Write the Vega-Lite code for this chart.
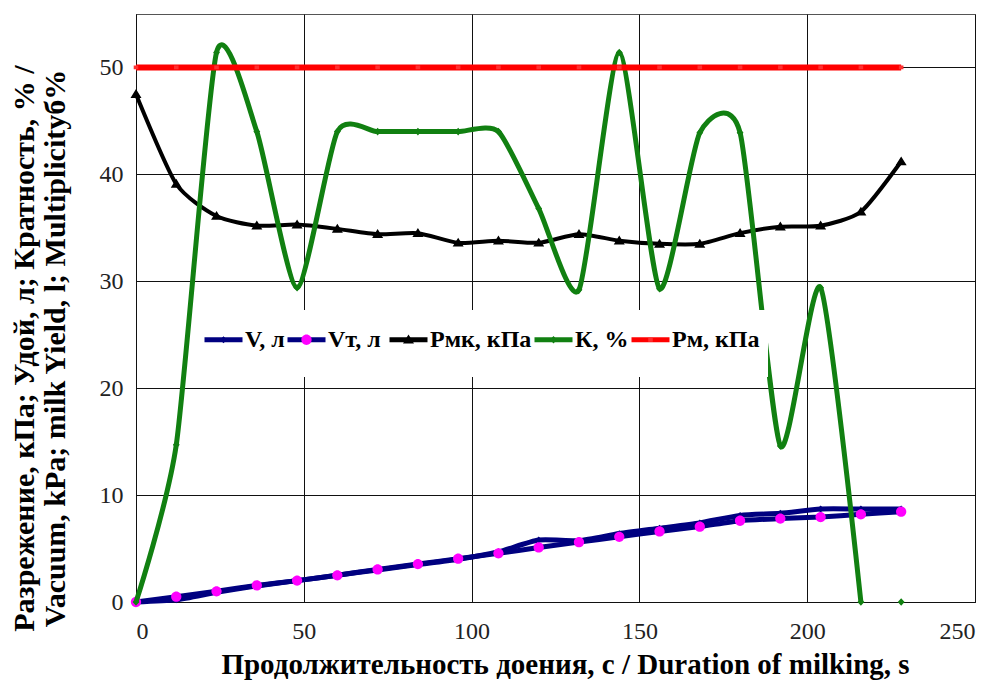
{
  "$schema": "https://vega.github.io/schema/vega-lite/v6.json",
  "width": 839,
  "height": 588,
  "autosize": "none",
  "padding": {"left": 136, "top": 14, "right": 17, "bottom": 78},
  "background": "white",
  "config": {
    "view": {"stroke": "#555", "strokeWidth": 1},
    "font": "Liberation Serif",
    "axis": {
      "grid": true, "gridColor": "#111", "gridOpacity": 1, "gridWidth": 1,
      "domainColor": "#111", "domainWidth": 1, "ticks": false,
      "labelFont": "Liberation Serif", "labelFontSize": 24, "labelColor": "#222",
      "titleFont": "Liberation Serif", "titleFontWeight": "bold", "titleColor": "#000"
    },
    "legend": {
      "labelFont": "Liberation Serif"
    }
  },
  "datasets": {
    "d": [
      {"t":0,"s":"V, л","v":0},{"t":12,"s":"V, л","v":0.2},{"t":24,"s":"V, л","v":0.9},{"t":36,"s":"V, л","v":1.5},{"t":48,"s":"V, л","v":2.0},{"t":60,"s":"V, л","v":2.5},{"t":72,"s":"V, л","v":3.0},{"t":84,"s":"V, л","v":3.5},{"t":96,"s":"V, л","v":4.0},{"t":108,"s":"V, л","v":4.7},{"t":120,"s":"V, л","v":5.8},{"t":132,"s":"V, л","v":5.75},{"t":144,"s":"V, л","v":6.4},{"t":156,"s":"V, л","v":6.9},{"t":168,"s":"V, л","v":7.4},{"t":180,"s":"V, л","v":8.1},{"t":192,"s":"V, л","v":8.3},{"t":204,"s":"V, л","v":8.7},{"t":216,"s":"V, л","v":8.7},{"t":228,"s":"V, л","v":8.7},
      {"t":0,"s":"Vт,  л","v":0},{"t":12,"s":"Vт,  л","v":0.5},{"t":24,"s":"Vт,  л","v":1.0},{"t":36,"s":"Vт,  л","v":1.55},{"t":48,"s":"Vт,  л","v":2.0},{"t":60,"s":"Vт,  л","v":2.5},{"t":72,"s":"Vт,  л","v":3.05},{"t":84,"s":"Vт,  л","v":3.55},{"t":96,"s":"Vт,  л","v":4.05},{"t":108,"s":"Vт,  л","v":4.55},{"t":120,"s":"Vт,  л","v":5.1},{"t":132,"s":"Vт,  л","v":5.6},{"t":144,"s":"Vт,  л","v":6.1},{"t":156,"s":"Vт,  л","v":6.6},{"t":168,"s":"Vт,  л","v":7.05},{"t":180,"s":"Vт,  л","v":7.6},{"t":192,"s":"Vт,  л","v":7.8},{"t":204,"s":"Vт,  л","v":7.95},{"t":216,"s":"Vт,  л","v":8.2},{"t":228,"s":"Vт,  л","v":8.45},
      {"t":0,"s":"Рмк, кПа","v":47.5},{"t":12,"s":"Рмк, кПа","v":39.1},{"t":24,"s":"Рмк, кПа","v":36.1},{"t":36,"s":"Рмк, кПа","v":35.2},{"t":48,"s":"Рмк, кПа","v":35.3},{"t":60,"s":"Рмк, кПа","v":34.9},{"t":72,"s":"Рмк, кПа","v":34.4},{"t":84,"s":"Рмк, кПа","v":34.5},{"t":96,"s":"Рмк, кПа","v":33.6},{"t":108,"s":"Рмк, кПа","v":33.8},{"t":120,"s":"Рмк, кПа","v":33.6},{"t":132,"s":"Рмк, кПа","v":34.4},{"t":144,"s":"Рмк, кПа","v":33.8},{"t":156,"s":"Рмк, кПа","v":33.5},{"t":168,"s":"Рмк, кПа","v":33.5},{"t":180,"s":"Рмк, кПа","v":34.5},{"t":192,"s":"Рмк, кПа","v":35.1},{"t":204,"s":"Рмк, кПа","v":35.2},{"t":216,"s":"Рмк, кПа","v":36.5},{"t":228,"s":"Рмк, кПа","v":41.2},
      {"t":0,"s":"К, %","v":0},{"t":12,"s":"К, %","v":14.7},{"t":24,"s":"К, %","v":51.4},{"t":36,"s":"К, %","v":44},{"t":48,"s":"К, %","v":29.4},{"t":60,"s":"К, %","v":44},{"t":72,"s":"К, %","v":44},{"t":84,"s":"К, %","v":44},{"t":96,"s":"К, %","v":44},{"t":108,"s":"К, %","v":44},{"t":120,"s":"К, %","v":36.8},{"t":132,"s":"К, %","v":29.2},{"t":144,"s":"К, %","v":51.4},{"t":156,"s":"К, %","v":29.3},{"t":168,"s":"К, %","v":43.9},{"t":180,"s":"К, %","v":43.9},{"t":192,"s":"К, %","v":14.6},{"t":204,"s":"К, %","v":29.4},{"t":216,"s":"К, %","v":0},{"t":228,"s":"К, %","v":0},
      {"t":0,"s":"Рм, кПа","v":50},{"t":12,"s":"Рм, кПа","v":50},{"t":24,"s":"Рм, кПа","v":50},{"t":36,"s":"Рм, кПа","v":50},{"t":48,"s":"Рм, кПа","v":50},{"t":60,"s":"Рм, кПа","v":50},{"t":72,"s":"Рм, кПа","v":50},{"t":84,"s":"Рм, кПа","v":50},{"t":96,"s":"Рм, кПа","v":50},{"t":108,"s":"Рм, кПа","v":50},{"t":120,"s":"Рм, кПа","v":50},{"t":132,"s":"Рм, кПа","v":50},{"t":144,"s":"Рм, кПа","v":50},{"t":156,"s":"Рм, кПа","v":50},{"t":168,"s":"Рм, кПа","v":50},{"t":180,"s":"Рм, кПа","v":50},{"t":192,"s":"Рм, кПа","v":50},{"t":204,"s":"Рм, кПа","v":50},{"t":216,"s":"Рм, кПа","v":50},{"t":228,"s":"Рм, кПа","v":50}
    ]
  },
  "data": {"name": "d"},
  "encoding": {
    "x": {
      "field": "t", "type": "quantitative",
      "scale": {"domain": [0, 250], "nice": false, "zero": false},
      "axis": {
        "values": [0, 50, 100, 150, 200, 250],
        "title": "Продолжительность доения, с / Duration of milking, s",
        "titleFontSize": 29,
        "labelPadding": 17,
        "titleX": 429, "titleY": 48, "titleAlign": "center", "titleBaseline": "top"
      }
    },
    "y": {
      "field": "v", "type": "quantitative",
      "scale": {"domain": [0, 55], "nice": false, "zero": false},
      "axis": {
        "values": [0, 10, 20, 30, 40, 50],
        "title": ["Разрежение, кПа; Удой, л; Кратность, % /", "Vacuum, kPa; milk Yield, l; Multiplicityб%"],
        "titleFontSize": 30,
        "titleLineHeight": 31,
        "labelPadding": 13,
        "titleAngle": 270, "titleX": -127, "titleY": 334, "titleAlign": "center", "titleBaseline": "top"
      }
    }
  },
  "layer": [
    {
      "transform": [{"filter": "datum.s === 'V, л'"}],
      "mark": {"type": "line", "interpolate": "cardinal", "tension": 0.35, "strokeWidth": 5},
      "encoding": {
        "color": {
          "field": "s", "type": "nominal",
          "scale": {"domain": ["V, л", "Vт,  л", "Рмк, кПа", "К, %", "Рм, кПа", "—"], "range": ["#000080", "#000080", "#000000", "#118011", "#ff0000", "#ffffff"]},
          "legend": {
            "title": null, "orient": "none", "direction": "horizontal", "legendX": 58, "legendY": 296,
            "values": ["V, л", "Vт,  л", "Рмк, кПа", "К, %", "Рм, кПа"],
            "symbolType": "M-1,0H1M0,-1L0,-1M0,1L0,1", "symbolSize": 1444, "symbolStrokeWidth": 5, "symbolFillColor": "transparent",
            "labelFontWeight": "bold", "labelFontSize": 24, "labelColor": "#000",
            "labelOffset": 0, "columnPadding": -10, "padding": 8, "fillColor": "white", "labelLimit": 0
          }
        }
      }
    },
    {
      "transform": [{"filter": "datum.s === 'V, л'"}],
      "mark": {"type": "point", "filled": true, "size": 1444, "opacity": 1, "strokeWidth": 0},
      "encoding": {
        "fill": {
          "field": "s", "type": "nominal",
          "scale": {"domain": ["V, л", "Vт,  л", "Рмк, кПа", "К, %", "Рм, кПа"], "range": ["#000080", "#ff00ff", "#000000", "#118011", "#ff3030"]},
          "legend": {
            "title": null, "orient": "none", "direction": "horizontal", "legendX": 58, "legendY": 296,
            "symbolSize": 1444, "symbolStrokeWidth": 5, "symbolStrokeColor": "transparent",
            "labelFontWeight": "bold", "labelFontSize": 24, "labelOpacity": 0,
            "labelOffset": 0, "columnPadding": -10, "padding": 8, "labelLimit": 0
          }
        },
        "shape": {
          "field": "s", "type": "nominal",
          "scale": {"domain": ["V, л", "Vт,  л", "Рмк, кПа", "К, %", "Рм, кПа"], "range": [
            "M-1,0L-1,0M1,0L1,0M0,-1L0,-1M0,1L0,1M0,-0.18L0.18,0L0,0.18L-0.18,0Z",
            "M-1,0L-1,0M1,0L1,0M0,-1L0,-1M0,1L0,1M-0.27,0A0.27,0.27,0,1,0,0.27,0A0.27,0.27,0,1,0,-0.27,0Z",
            "M-1,0L-1,0M1,0L1,0M0,-1L0,-1M0,1L0,1M0,-0.27L0.29,0.2L-0.29,0.2Z",
            "M-1,0L-1,0M1,0L1,0M0,-1L0,-1M0,1L0,1M0,-0.2L0.18,0L0,0.2L-0.18,0Z",
            "M-1,0L-1,0M1,0L1,0M0,-1L0,-1M0,1L0,1M-0.12,-0.1H0.12V0.1H-0.12Z"
          ]},
          "legend": {
            "title": null, "orient": "none", "direction": "horizontal", "legendX": 58, "legendY": 296,
            "symbolSize": 1444, "symbolStrokeWidth": 5, "symbolStrokeColor": "transparent",
            "labelFontWeight": "bold", "labelFontSize": 24, "labelOpacity": 0,
            "labelOffset": 0, "columnPadding": -10, "padding": 8, "labelLimit": 0
          }
        }
      }
    },
    {
      "transform": [{"filter": "datum.s === 'Vт,  л'"}],
      "mark": {"type": "line", "interpolate": "cardinal", "tension": 0.35, "strokeWidth": 5},
      "encoding": {"color": {"field": "s", "type": "nominal"}}
    },
    {
      "transform": [{"filter": "datum.s === 'Vт,  л'"}],
      "mark": {"type": "point", "filled": true, "size": 1444, "opacity": 1, "strokeWidth": 0},
      "encoding": {"fill": {"field": "s", "type": "nominal"}, "shape": {"field": "s", "type": "nominal"}}
    },
    {
      "transform": [{"filter": "datum.s === 'Рмк, кПа'"}],
      "mark": {"type": "line", "interpolate": "cardinal", "tension": 0.35, "strokeWidth": 4},
      "encoding": {"color": {"field": "s", "type": "nominal"}}
    },
    {
      "transform": [{"filter": "datum.s === 'Рмк, кПа'"}],
      "mark": {"type": "point", "filled": true, "size": 1444, "opacity": 1, "strokeWidth": 0},
      "encoding": {"fill": {"field": "s", "type": "nominal"}, "shape": {"field": "s", "type": "nominal"}}
    },
    {
      "transform": [{"filter": "datum.s === 'К, %' && datum.t < 228"}],
      "mark": {"type": "line", "interpolate": "cardinal", "tension": 0.35, "strokeWidth": 5},
      "encoding": {"color": {"field": "s", "type": "nominal"}}
    },
    {
      "transform": [{"filter": "datum.s === 'К, %'"}],
      "mark": {"type": "point", "filled": true, "size": 1444, "opacity": 1, "strokeWidth": 0},
      "encoding": {"fill": {"field": "s", "type": "nominal"}, "shape": {"field": "s", "type": "nominal"}}
    },
    {
      "transform": [{"filter": "datum.s === 'Рм, кПа'"}],
      "mark": {"type": "line", "strokeWidth": 6},
      "encoding": {"color": {"field": "s", "type": "nominal"}}
    },
    {
      "transform": [{"filter": "datum.s === 'Рм, кПа'"}],
      "mark": {"type": "point", "filled": true, "size": 1444, "opacity": 1, "strokeWidth": 0},
      "encoding": {"fill": {"field": "s", "type": "nominal"}, "shape": {"field": "s", "type": "nominal"}}
    }
  ]
}
